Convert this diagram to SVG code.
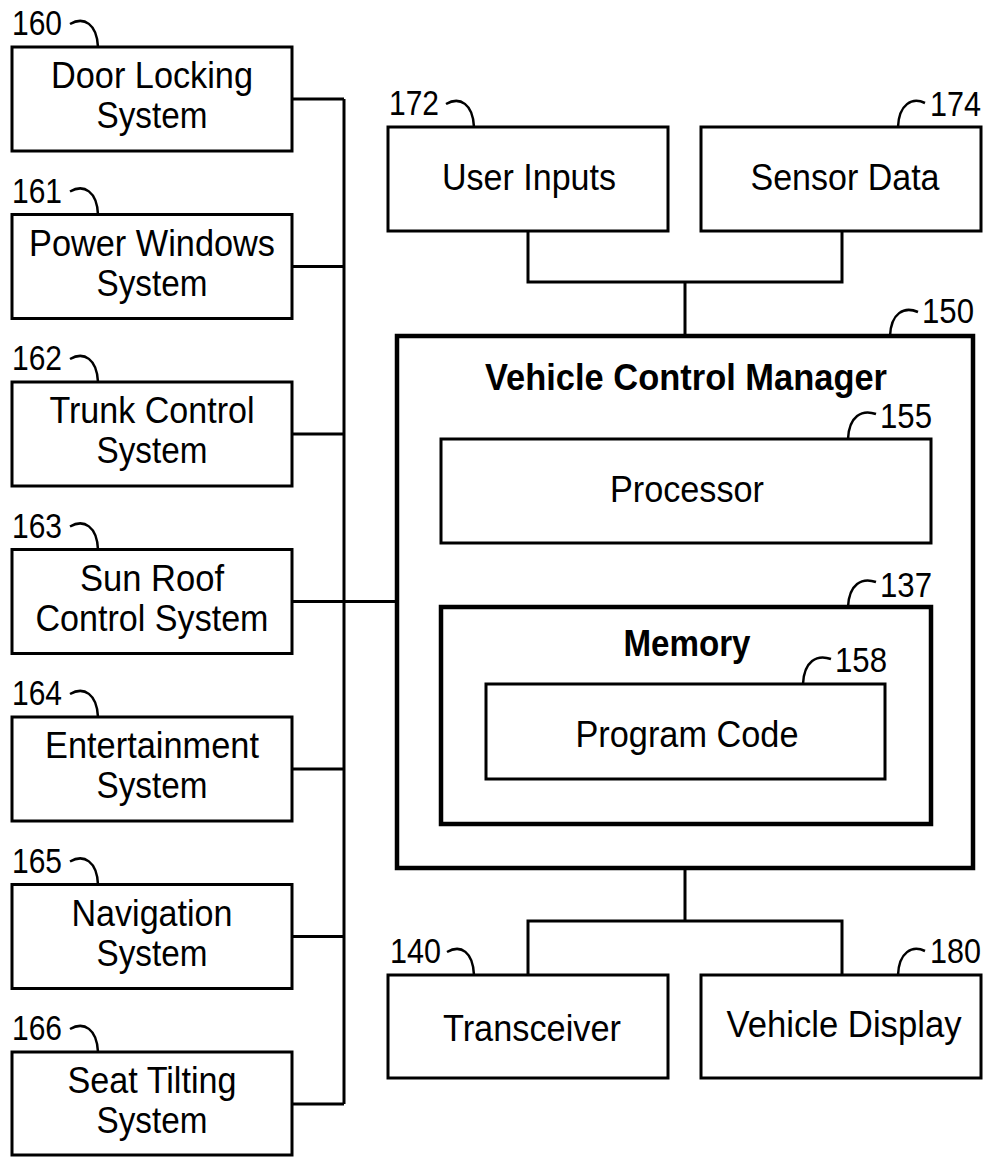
<svg xmlns="http://www.w3.org/2000/svg" width="987" height="1157" viewBox="0 0 987 1157">
<style>
.box{fill:#fff;stroke:#000;stroke-width:3}
.thick{fill:#fff;stroke:#000;stroke-width:4.5}
.ln{fill:none;stroke:#000;stroke-width:3}
.ld{fill:none;stroke:#000;stroke-width:2.5}
text{font-family:"Liberation Sans",Arial,sans-serif;fill:#000}
.t{font-size:37px;text-anchor:middle}
.b{font-size:37px;font-weight:bold;text-anchor:middle}
.n{font-size:35px}
</style>
<rect width="987" height="1157" fill="#fff"/>
<g id="connectors">
<path class="ln" d="M292,99H344M292,266.5H344M292,434H344M292,601.5H344M292,769H344M292,936.5H344M292,1104H344M344,99V1104M344,601.5H397"/>
<path class="ln" d="M528,231V282H842V231M685,282V336"/>
<path class="ln" d="M685,868V921M528,975V921H842V975"/>
</g>
<g id="n160">
<rect class="box" x="12" y="47" width="280" height="104"/>
<text class="t" x="152" y="88" textLength="202" lengthAdjust="spacingAndGlyphs">Door Locking</text>
<text class="t" x="152" y="128" textLength="111" lengthAdjust="spacingAndGlyphs">System</text>
<text class="n" x="12" y="35" textLength="50" lengthAdjust="spacingAndGlyphs">160</text>
<path class="ld" d="M70,24C84,16 97,24 98,47"/>
</g>
<g id="n161">
<rect class="box" x="12" y="214.5" width="280" height="104"/>
<text class="t" x="152" y="255.5" textLength="246" lengthAdjust="spacingAndGlyphs">Power Windows</text>
<text class="t" x="152" y="295.5" textLength="111" lengthAdjust="spacingAndGlyphs">System</text>
<text class="n" x="12" y="202.5" textLength="50" lengthAdjust="spacingAndGlyphs">161</text>
<path class="ld" d="M70,191.5C84,183.5 97,191.5 98,214.5"/>
</g>
<g id="n162">
<rect class="box" x="12" y="382" width="280" height="104"/>
<text class="t" x="152" y="423" textLength="205" lengthAdjust="spacingAndGlyphs">Trunk Control</text>
<text class="t" x="152" y="463" textLength="111" lengthAdjust="spacingAndGlyphs">System</text>
<text class="n" x="12" y="370" textLength="50" lengthAdjust="spacingAndGlyphs">162</text>
<path class="ld" d="M70,359C84,351 97,359 98,382"/>
</g>
<g id="n163">
<rect class="box" x="12" y="549.5" width="280" height="104"/>
<text class="t" x="152" y="590.5" textLength="144" lengthAdjust="spacingAndGlyphs">Sun Roof</text>
<text class="t" x="152" y="630.5" textLength="233" lengthAdjust="spacingAndGlyphs">Control System</text>
<text class="n" x="12" y="537.5" textLength="50" lengthAdjust="spacingAndGlyphs">163</text>
<path class="ld" d="M70,526.5C84,518.5 97,526.5 98,549.5"/>
</g>
<g id="n164">
<rect class="box" x="12" y="717" width="280" height="104"/>
<text class="t" x="152" y="758" textLength="214" lengthAdjust="spacingAndGlyphs">Entertainment</text>
<text class="t" x="152" y="798" textLength="111" lengthAdjust="spacingAndGlyphs">System</text>
<text class="n" x="12" y="705" textLength="50" lengthAdjust="spacingAndGlyphs">164</text>
<path class="ld" d="M70,694C84,686 97,694 98,717"/>
</g>
<g id="n165">
<rect class="box" x="12" y="884.5" width="280" height="104"/>
<text class="t" x="152" y="925.5" textLength="161" lengthAdjust="spacingAndGlyphs">Navigation</text>
<text class="t" x="152" y="965.5" textLength="111" lengthAdjust="spacingAndGlyphs">System</text>
<text class="n" x="12" y="872.5" textLength="50" lengthAdjust="spacingAndGlyphs">165</text>
<path class="ld" d="M70,861.5C84,853.5 97,861.5 98,884.5"/>
</g>
<g id="n166">
<rect class="box" x="12" y="1052" width="280" height="103"/>
<text class="t" x="152" y="1093" textLength="169" lengthAdjust="spacingAndGlyphs">Seat Tilting</text>
<text class="t" x="152" y="1133" textLength="111" lengthAdjust="spacingAndGlyphs">System</text>
<text class="n" x="12" y="1040" textLength="50" lengthAdjust="spacingAndGlyphs">166</text>
<path class="ld" d="M70,1029C84,1021 97,1029 98,1052"/>
</g>
<g id="n172">
<rect class="box" x="388" y="127" width="280" height="104"/>
<text class="t" x="529" y="190" textLength="174" lengthAdjust="spacingAndGlyphs">User Inputs</text>
<text class="n" x="389" y="115" textLength="50" lengthAdjust="spacingAndGlyphs">172</text>
<path class="ld" d="M446,104C460,96 473,104 474,127"/>
</g>
<g id="n174">
<rect class="box" x="701" y="127" width="280" height="104"/>
<text class="t" x="845" y="190" textLength="189" lengthAdjust="spacingAndGlyphs">Sensor Data</text>
<text class="n" x="930" y="116" textLength="51" lengthAdjust="spacingAndGlyphs">174</text>
<path class="ld" d="M898,127C899,104 912,97 925,103"/>
</g>
<g id="n150">
<rect class="thick" x="397" y="336" width="576" height="532"/>
<text class="b" x="686" y="390" textLength="402" lengthAdjust="spacingAndGlyphs">Vehicle Control Manager</text>
<text class="n" x="922" y="323" textLength="52" lengthAdjust="spacingAndGlyphs">150</text>
<path class="ld" d="M890,336C891,313 904,306 918,312"/>
</g>
<g id="n155">
<rect class="box" x="441" y="439" width="490" height="104"/>
<text class="t" x="687" y="502" textLength="154" lengthAdjust="spacingAndGlyphs">Processor</text>
<text class="n" x="880" y="428" textLength="52" lengthAdjust="spacingAndGlyphs">155</text>
<path class="ld" d="M848,439C849,416 862,409 876,414"/>
</g>
<g id="n137">
<rect class="thick" x="441" y="607" width="490" height="217"/>
<text class="b" x="687" y="656" textLength="127" lengthAdjust="spacingAndGlyphs">Memory</text>
<text class="n" x="880" y="597" textLength="52" lengthAdjust="spacingAndGlyphs">137</text>
<path class="ld" d="M848,607C849,584 862,577 876,582"/>
</g>
<g id="n158">
<rect class="box" x="486" y="684" width="399" height="95"/>
<text class="t" x="687" y="747" textLength="223" lengthAdjust="spacingAndGlyphs">Program Code</text>
<text class="n" x="835" y="672" textLength="52" lengthAdjust="spacingAndGlyphs">158</text>
<path class="ld" d="M803,684C804,661 817,654 831,659"/>
</g>
<g id="n140">
<rect class="box" x="388" y="975" width="280" height="103"/>
<text class="t" x="532" y="1041" textLength="178" lengthAdjust="spacingAndGlyphs">Transceiver</text>
<text class="n" x="390" y="963" textLength="51" lengthAdjust="spacingAndGlyphs">140</text>
<path class="ld" d="M447,952C461,944 473,952 474,975"/>
</g>
<g id="n180">
<rect class="box" x="701" y="975" width="280" height="103"/>
<text class="t" x="844" y="1037" textLength="235" lengthAdjust="spacingAndGlyphs">Vehicle Display</text>
<text class="n" x="930" y="963" textLength="51" lengthAdjust="spacingAndGlyphs">180</text>
<path class="ld" d="M898,975C899,952 912,945 925,951"/>
</g>
</svg>
